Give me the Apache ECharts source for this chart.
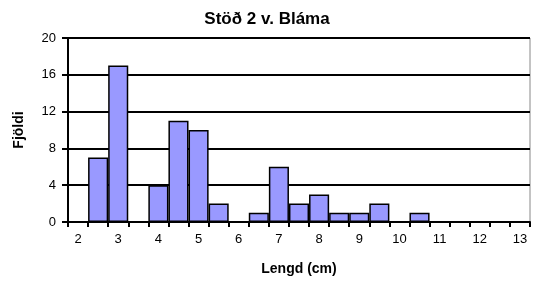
<!DOCTYPE html>
<html>
<head>
<meta charset="utf-8">
<script src="https://cdn.jsdelivr.net/npm/echarts@6/dist/echarts.min.js"></script>
<style>
  html, body { margin: 0; padding: 0; background: #fff; }
  #chart { width: 534px; height: 284px; }
</style>
</head>
<body>
<div id="chart"></div>
<script>
// lengdarflokkar (cm), hálfs cm bil
var categories = ['2', '2.5', '3', '3.5', '4', '4.5', '5', '5.5', '6', '6.5', '7', '7.5',
                  '8', '8.5', '9', '9.5', '10', '10.5', '11', '11.5', '12', '12.5', '13'];
// fjöldi í hverjum flokki
var counts = [0, 7, 17, 0, 4, 11, 10, 2, 0, 1, 6, 2, 3, 1, 1, 2, 0, 1, 0, 0, 0, 0, 0];

var chart = echarts.init(document.getElementById('chart'));

var font = 'Liberation Sans';

var option = {
  animation: false,
  backgroundColor: '#fff',
  title: {
    text: 'Stöð 2 v. Bláma',
    left: 'center',
    top: 6,
    textStyle: { fontFamily: font, fontSize: 17, fontWeight: 'bold', color: '#000' }
  },
  grid: { left: 68, right: 4, top: 38, bottom: 62, show: true, borderColor: '#888', borderWidth: 1 },
  xAxis: {
    type: 'category',
    data: categories,
    name: 'Lengd (cm)',
    nameLocation: 'middle',
    nameGap: 40,
    nameTextStyle: { fontFamily: font, fontSize: 14, fontWeight: 'bold', color: '#000' },
    axisLine: { lineStyle: { color: '#000', width: 2 } },
    axisTick: { show: true, alignWithLabel: false, interval: 0, length: 5, lineStyle: { color: '#000', width: 2 } },
    axisLabel: {
      interval: 1,
      margin: 11,
      fontFamily: font, fontSize: 13, color: '#000'
    }
  },
  yAxis: {
    type: 'value',
    min: 0, max: 20, interval: 4,
    name: 'Fjöldi',
    nameLocation: 'middle',
    nameGap: 42,
    nameRotate: 90,
    nameTextStyle: { fontFamily: font, fontSize: 14, fontWeight: 'bold', color: '#000' },
    axisLine: { show: true, lineStyle: { color: '#000', width: 2 } },
    axisTick: { show: true, length: 6, lineStyle: { color: '#000', width: 2 } },
    axisLabel: { margin: 12, fontFamily: font, fontSize: 13, color: '#000' },
    splitLine: { show: true, lineStyle: { color: '#000', width: 2 } }
  },
  series: [{
    type: 'bar',
    data: counts,
    barCategoryGap: '0%',
    itemStyle: { color: '#9999FF', borderColor: '#000', borderWidth: 1.5 }
  }]
};

chart.setOption(option);
</script>
</body>
</html>
